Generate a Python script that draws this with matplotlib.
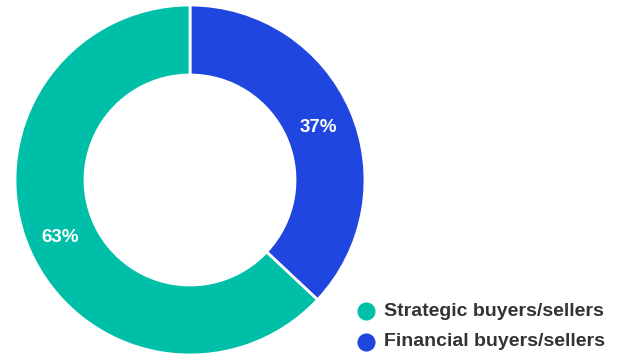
import matplotlib
matplotlib.use('Agg')
import matplotlib.pyplot as plt

labels = ['Financial buyers/sellers', 'Strategic buyers/sellers']
shares = [37, 63]
colors = ['#2046E0', '#00BFA8']

W, H = 620, 356
fig = plt.figure(figsize=(W / 100, H / 100), dpi=100)
ax = fig.add_axes([0, 0, 1, 1])

cx, cy, r = 190, H - 180, 175
wedges, _ = ax.pie(shares, colors=colors, startangle=90, counterclock=False,
                   center=(cx, cy), radius=r, frame=True,
                   wedgeprops=dict(width=r * 0.4, edgecolor='white', linewidth=2))
ax.set_xlim(0, W)
ax.set_ylim(0, H)
ax.set_aspect('equal')
ax.axis('off')

font = 'Liberation Sans'

# percentage labels inside the ring
ax.text(318, H - 127, f'{shares[0]}%', color='white', fontsize=13.5,
        fontweight='bold', family=font, ha='center', va='center')
ax.text(60, H - 237, f'{shares[1]}%', color='white', fontsize=13.5,
        fontweight='bold', family=font, ha='center', va='center')

# legend, strategic first
for i, idx in enumerate([1, 0]):
    y = H - (311 + i * 31)
    ax.scatter([366], [y], s=170, color=colors[idx], zorder=3, linewidths=0)
    ax.text(384, y, labels[idx], color='#333333', fontsize=14,
            fontweight='bold', family=font, va='center', ha='left')

fig.savefig('out.png', dpi=100)
